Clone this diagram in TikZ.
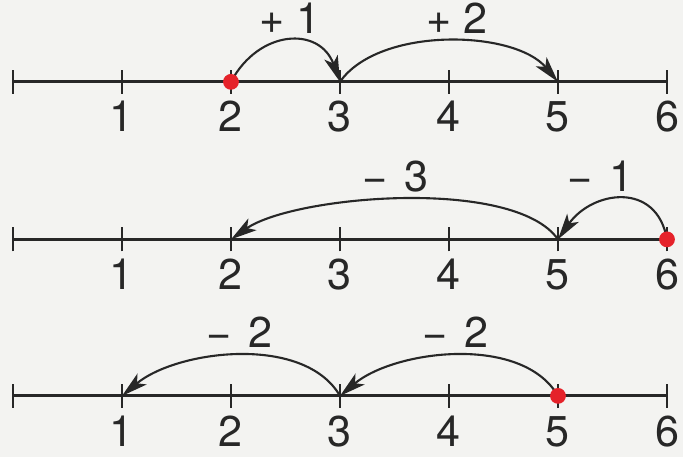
\documentclass[tikz,border=0pt]{standalone}
\usepackage{fontspec}
\setsansfont{TeX Gyre Heros}
\usetikzlibrary{arrows.meta, positioning, calc}
\definecolor{sink}{HTML}{272727}
\definecolor{sred}{HTML}{E5222A}
\definecolor{spaper}{HTML}{F3F3F1}
\tikzset{
  >=Stealth,
  axis/.style={line width=1.6pt, draw=sink},
  tickmark/.style={line width=1.2pt, draw=sink},
  num/.style={font=\fontsize{22.5}{27}\selectfont\sffamily, text=sink,
    anchor=base, inner sep=0pt},
  jlab/.style={font=\fontsize{22.5}{27}\selectfont\sffamily, text=sink,
    anchor=base, inner sep=0pt},
  jump/.style={-{Stealth[length=4.8mm,width=2.6mm,inset=1.2mm]}, line width=1.1pt, draw=sink},
  dot/.style={circle, fill=sred, inner sep=0pt, minimum size=2.9mm}
}

\begin{document}
\begin{tikzpicture}[x=2cm,y=2cm]
  \useasboundingbox[fill=spaper] (-0.119,-0.07) rectangle (6.147,4.123);
  % three number lines
  \foreach \r/\y in {a/3.372, b/1.927, c/0.491} {
    \foreach \i in {0,...,6}
      \coordinate (\r\i) at (\i,\y);
    \draw[axis] (\r0) -- (\r6);
    \foreach \i in {0,...,6}
      \draw[tickmark] ([yshift=-2.2mm]\r\i) -- ([yshift=2.2mm]\r\i);
    \foreach \i in {1,...,6}
      \node[num] (n\r\i) at ([yshift=-9.2mm]\r\i) {\i};
  }
  % jumps
  \draw[jump] (a2) to[out=62,in=110,looseness=1.4] (a3);
  \draw[jump] (a3) to[out=55,in=130,looseness=0.8] (a5);
  \draw[jump] (b6) to[out=100,in=55,looseness=1.4] (b5);
  \draw[jump] (b5) to[out=125,in=35,looseness=0.6] (b2);
  \draw[jump] (c5) to[out=120,in=40,looseness=0.84] (c3);
  \draw[jump] (c3) to[out=120,in=40,looseness=0.84] (c1);
  \node[jlab] (ja1) at (2.54,3.812) {+ 1};
  \node[jlab] (ja2) at (4.07,3.812) {+ 2};
  \node[jlab] (jb1) at (3.51,2.367) {−\hspace{0.1em} 3};
  \node[jlab] (jb2) at (5.39,2.367) {−\hspace{0.1em} 1};
  \node[jlab] (jc1) at (2.08,0.931) {−\hspace{0.1em} 2};
  \node[jlab] (jc2) at (4.06,0.931) {−\hspace{0.1em} 2};
  % start points
  \node[dot] (sa) at (a2) {};
  \node[dot] (sb) at (b6) {};
  \node[dot] (sc) at (c5) {};
\end{tikzpicture}
\end{document}
